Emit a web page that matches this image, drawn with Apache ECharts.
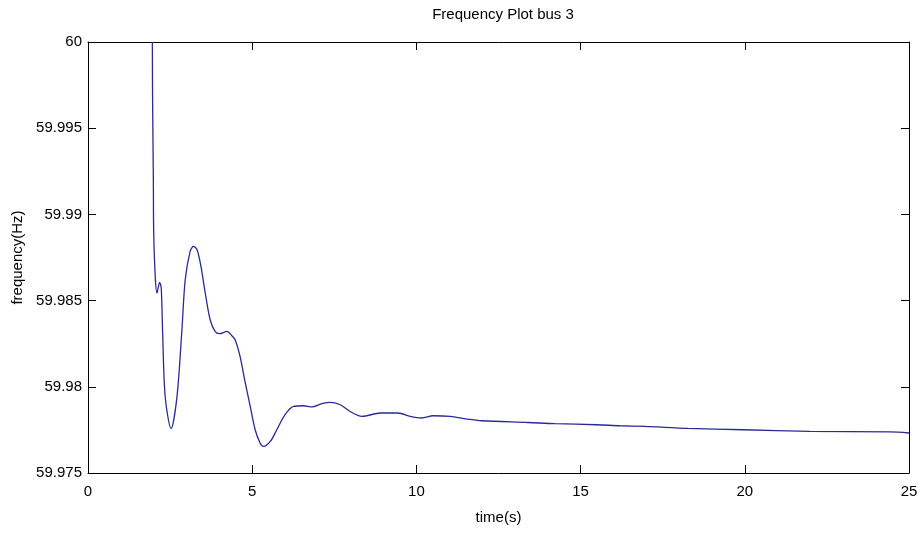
<!DOCTYPE html>
<html>
<head>
<meta charset="utf-8">
<title>Frequency Plot bus 3</title>
<script src="https://cdn.jsdelivr.net/npm/echarts@6/dist/echarts.min.js"></script>
<style>
  html, body { margin: 0; padding: 0; background: #ffffff; }
  #chart { width: 920px; height: 535px; }
</style>
</head>
<body>
<div id="chart"></div>
<script>
// Bus 3 frequency response after the disturbance at t ≈ 2 s
const timeSec = [
  1.96, 1.965, 1.99, 2.0, 2.05, 2.10, 2.18, 2.23, 2.27, 2.35, 2.53, 2.71, 2.86,
  2.96, 3.11, 3.21, 3.32, 3.44, 3.57, 3.72, 3.87, 4.0, 4.23, 4.38, 4.48, 4.63,
  4.79, 4.94, 5.09, 5.24, 5.34, 5.55, 5.75, 6.0, 6.26, 6.56, 6.82, 7.12, 7.37,
  7.68, 7.98, 8.34, 8.90, 9.44, 9.81, 10.16, 10.51, 11.03, 11.53, 11.99, 13.40,
  14.22, 15.49, 16.20, 16.96, 18.27, 19.94, 21.98, 24.42, 25.0
];
const freqHz = [
  60.0, 59.9971, 59.9920, 59.9890, 59.98631, 59.98544, 59.98606, 59.98573,
  59.98331, 59.97944, 59.97757, 59.97944, 59.98331,
  59.98621, 59.98785, 59.98814, 59.98795, 59.98698, 59.98544, 59.98389,
  59.98321, 59.98308, 59.98321, 59.98296, 59.98273, 59.98176,
  59.98022, 59.97886, 59.97751, 59.97674, 59.97654, 59.97683, 59.97751,
  59.97838, 59.97886, 59.97890, 59.97883, 59.97902, 59.97910,
  59.97896, 59.97857, 59.97828, 59.97848, 59.97848, 59.97828, 59.97819,
  59.97832, 59.97828, 59.97813, 59.97803, 59.97793,
  59.97786, 59.97780, 59.97774, 59.97770, 59.97759, 59.97751, 59.97741,
  59.97738, 59.97732
];

// Axis ranges and tick steps
const timeRange = [0, 25];
const timeStep = 5;
const freqRange = [59.975, 60];
const freqStep = 0.005;

const FONT = "'Liberation Sans', Arial, sans-serif";
const INK = '#000000';

const points = timeSec.map((t, i) => [t, freqHz[i]]);

const tickInside = { show: true, inside: true, length: 8, lineStyle: { color: INK, width: 1 } };
const lineBlack = { show: true, onZero: false, lineStyle: { color: INK, width: 1 } };

const chart = echarts.init(document.getElementById('chart'), null, { renderer: 'canvas' });

chart.setOption({
  backgroundColor: '#ffffff',
  animation: false,
  title: {
    text: 'Frequency Plot bus 3',
    left: 498,
    top: 2,
    textAlign: 'center',
    textStyle: { fontFamily: FONT, fontSize: 15, fontWeight: 'normal', color: INK }
  },
  grid: {
    left: 88, right: 11, top: 42, bottom: 62,
    containLabel: false,
    outerBoundsMode: 'none'
  },
  xAxis: [
    {
      type: 'value',
      min: timeRange[0], max: timeRange[1], interval: timeStep,
      position: 'bottom',
      name: 'time(s)',
      nameLocation: 'middle',
      nameGap: 37,
      nameTextStyle: { fontFamily: FONT, fontSize: 15, color: INK },
      axisLine: lineBlack,
      axisTick: tickInside,
      axisLabel: { fontFamily: FONT, fontSize: 15, color: INK, margin: 11 },
      splitLine: { show: false }
    },
    {
      type: 'value',
      min: timeRange[0], max: timeRange[1], interval: timeStep,
      position: 'top',
      axisLine: lineBlack,
      axisTick: tickInside,
      axisLabel: { show: false },
      splitLine: { show: false }
    }
  ],
  yAxis: [
    {
      type: 'value',
      min: freqRange[0], max: freqRange[1], interval: freqStep,
      position: 'left',
      name: 'frequency(Hz)',
      nameLocation: 'middle',
      nameGap: 63,
      nameRotate: 90,
      nameTextStyle: { fontFamily: FONT, fontSize: 15, color: INK },
      axisLine: lineBlack,
      axisTick: tickInside,
      axisLabel: {
        fontFamily: FONT, fontSize: 15, color: INK, margin: 6,
        formatter: v => String(+v.toFixed(3))
      },
      splitLine: { show: false }
    },
    {
      type: 'value',
      min: freqRange[0], max: freqRange[1], interval: freqStep,
      position: 'right',
      axisLine: lineBlack,
      axisTick: tickInside,
      axisLabel: { show: false },
      splitLine: { show: false }
    }
  ],
  series: [
    {
      type: 'line',
      xAxisIndex: 0,
      yAxisIndex: 0,
      data: points,
      showSymbol: false,
      smooth: 0.3,
      clip: true,
      lineStyle: { color: '#2a2a96', width: 1.3 }
    }
  ]
});
</script>
</body>
</html>
